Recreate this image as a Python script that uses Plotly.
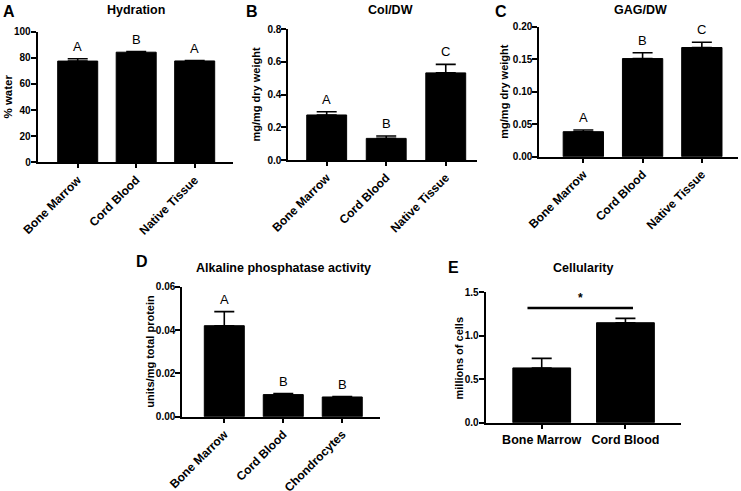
import plotly.graph_objects as go

# ---------------- data ----------------
cats_abc = ["Bone Marrow", "Cord Blood", "Native Tissue"]
cats_d = ["Bone Marrow", "Cord Blood", "Chondrocytes"]
cats_e = ["Bone Marrow", "Cord Blood"]

hyd_vals = [77.5, 84.3, 77.6]
hyd_err = [1.8, 0.5, 0.3]
hyd_letters = ["A", "B", "A"]

col_vals = [0.275, 0.132, 0.532]
col_err = [0.02, 0.015, 0.052]
col_letters = ["A", "B", "C"]

gag_vals = [0.0385, 0.151, 0.168]
gag_err = [0.0025, 0.009, 0.008]
gag_letters = ["A", "B", "C"]

alp_vals = [0.042, 0.0102, 0.0091]
alp_err = [0.0065, 0.0005, 0.0002]
alp_letters = ["A", "B", "B"]

cell_vals = [0.63, 1.15]
cell_err = [0.11, 0.05]
sig_y = 1.32
sig_x = [-0.17, 1.09]

W, H = 741, 491
FONT = "Arial, Liberation Sans, sans-serif"


def px_x(p):
    return p / W


def px_y(p):
    return 1 - p / H


# panel geometry in pixels: (x0, x1, ybottom, ytop)
panels = [
    dict(cats=cats_abc, vals=hyd_vals, err=hyd_err, letters=hyd_letters,
         box=(37.7, 233, 162.3, 31.7), yr=[0, 100], xr=[-0.684, 2.655],
         dtick=20, fmt="d", rot=-45, width=0.684,
         title="Hydration", tx=136, ty=10,
         ylab="% water", ylx=7.5, tag="A", tagx=9, tagy=12),
    dict(cats=cats_abc, vals=col_vals, err=col_err, letters=col_letters,
         box=(288.3, 476.7, 160, 29), yr=[0, 0.8], xr=[-0.645, 2.52],
         dtick=0.2, fmt=".1f", rot=-45, width=0.67,
         title="Col/DW", tx=390, ty=10,
         ylab="mg/mg dry weight", ylx=255, tag="B", tagx=252, tagy=12),
    dict(cats=cats_abc, vals=gag_vals, err=gag_err, letters=gag_letters,
         box=(539.3, 738, 156.7, 26.7), yr=[0, 0.2], xr=[-0.743, 2.61],
         dtick=0.05, fmt=".2f", rot=-45, width=0.68,
         title="GAG/DW", tx=640, ty=10,
         ylab="mg/mg dry weight", ylx=504, tag="C", tagx=501, tagy=12),
    dict(cats=cats_d, vals=alp_vals, err=alp_err, letters=alp_letters,
         box=(182.3, 380, 416.7, 286.7), yr=[0, 0.06], xr=[-0.712, 2.64],
         dtick=0.02, fmt=".2f", rot=-45, width=0.678,
         title="Alkaline phosphatase activity", tx=283, ty=268,
         ylab="units/mg total protein", ylx=150, tag="D", tagx=142, tagy=261),
    dict(cats=cats_e, vals=cell_vals, err=cell_err, letters=None,
         box=(485.7, 680.7, 422.7, 292.3), yr=[0, 1.5], xr=[-0.669, 1.66],
         dtick=0.5, fmt=".1f", rot=0, width=0.69,
         title="Cellularity", tx=583, ty=268,
         ylab="millions of cells", ylx=458, tag="E", tagx=453, tagy=267),
]

fig = go.Figure()
annotations = []
shapes = []

for i, p in enumerate(panels):
    n = "" if i == 0 else str(i + 1)
    xa, ya = "x" + n, "y" + n
    x0, x1, yb, yt = p["box"]
    fig.add_trace(go.Bar(
        x=p["cats"], y=p["vals"], xaxis=xa, yaxis=ya,
        marker=dict(color="black", line=dict(color="black", width=1)),
        width=p["width"],
        error_y=dict(type="data", array=p["err"], arrayminus=[0] * len(p["err"]),
                     color="black", thickness=1.6, width=10),
        showlegend=False, hoverinfo="skip",
    ))
    axis_common = dict(showline=True, linecolor="black", linewidth=2,
                       ticks="outside", tickcolor="black", tickwidth=2,
                       showgrid=False, zeroline=False, automargin=False)
    fig.update_layout(**{
        "xaxis" + n: dict(domain=[px_x(x0), px_x(x1)], anchor=ya, range=p["xr"],
                          type="category", tickangle=p["rot"], ticklen=4,
                          tickfont=dict(family=FONT, size=12.5 if p["rot"] == 0 else 12,
                                        color="black", weight="bold"),
                          **axis_common),
        "yaxis" + n: dict(domain=[px_y(yb), px_y(yt)], anchor=xa, range=p["yr"],
                          dtick=p["dtick"], tick0=0, tickformat=p["fmt"], ticklen=5,
                          ticklabelstandoff=-2,
                          tickfont=dict(family=FONT, size=10, color="black", weight="bold"),
                          **axis_common),
    })
    # panel title
    annotations.append(dict(text="<b>%s</b>" % p["title"], xref="paper", yref="paper",
                            x=px_x(p["tx"]), y=px_y(p["ty"]), xanchor="center", yanchor="middle",
                            showarrow=False, font=dict(family=FONT, size=12.5, color="black")))
    # panel tag
    annotations.append(dict(text="<b>%s</b>" % p["tag"], xref="paper", yref="paper",
                            x=px_x(p["tagx"]), y=px_y(p["tagy"]), xanchor="center", yanchor="middle",
                            showarrow=False, font=dict(family=FONT, size=16, color="black")))
    # y axis title
    annotations.append(dict(text="<b>%s</b>" % p["ylab"], xref="paper", yref="paper",
                            x=px_x(p["ylx"]), y=px_y((yb + yt) / 2), xanchor="center",
                            yanchor="middle", textangle=-90, showarrow=False,
                            font=dict(family=FONT, size=11.5 if i == 0 else 11, color="black")))
    # significance letters
    if p["letters"]:
        for c, v, e, L in zip(p["cats"], p["vals"], p["err"], p["letters"]):
            annotations.append(dict(text=L, xref=xa, yref=ya, x=c, y=v + e,
                                    xanchor="center", yanchor="bottom", yshift=3,
                                    showarrow=False,
                                    font=dict(family=FONT, size=13, color="black")))
    else:
        shapes.append(dict(type="line", xref=xa, yref=ya, x0=sig_x[0], x1=sig_x[1],
                           y0=sig_y, y1=sig_y, line=dict(color="black", width=2.5)))
        annotations.append(dict(text="<b>*</b>", xref=xa, yref=ya,
                                x=(sig_x[0] + sig_x[1]) / 2, y=sig_y,
                                xanchor="center", yanchor="bottom", yshift=1,
                                showarrow=False,
                                font=dict(family=FONT, size=12, color="black")))

fig.update_layout(
    template="none",
    width=W, height=H, margin=dict(l=0, r=0, t=0, b=0, pad=0, autoexpand=False),
    paper_bgcolor="white", plot_bgcolor="white",
    annotations=annotations, shapes=shapes, bargap=0.3,
    font=dict(family=FONT, color="black"),
)

fig.write_html("out.html",
               config={"displayModeBar": False, "staticPlot": True},
               post_script="document.body.style.margin='0';document.body.style.overflow='hidden';")
